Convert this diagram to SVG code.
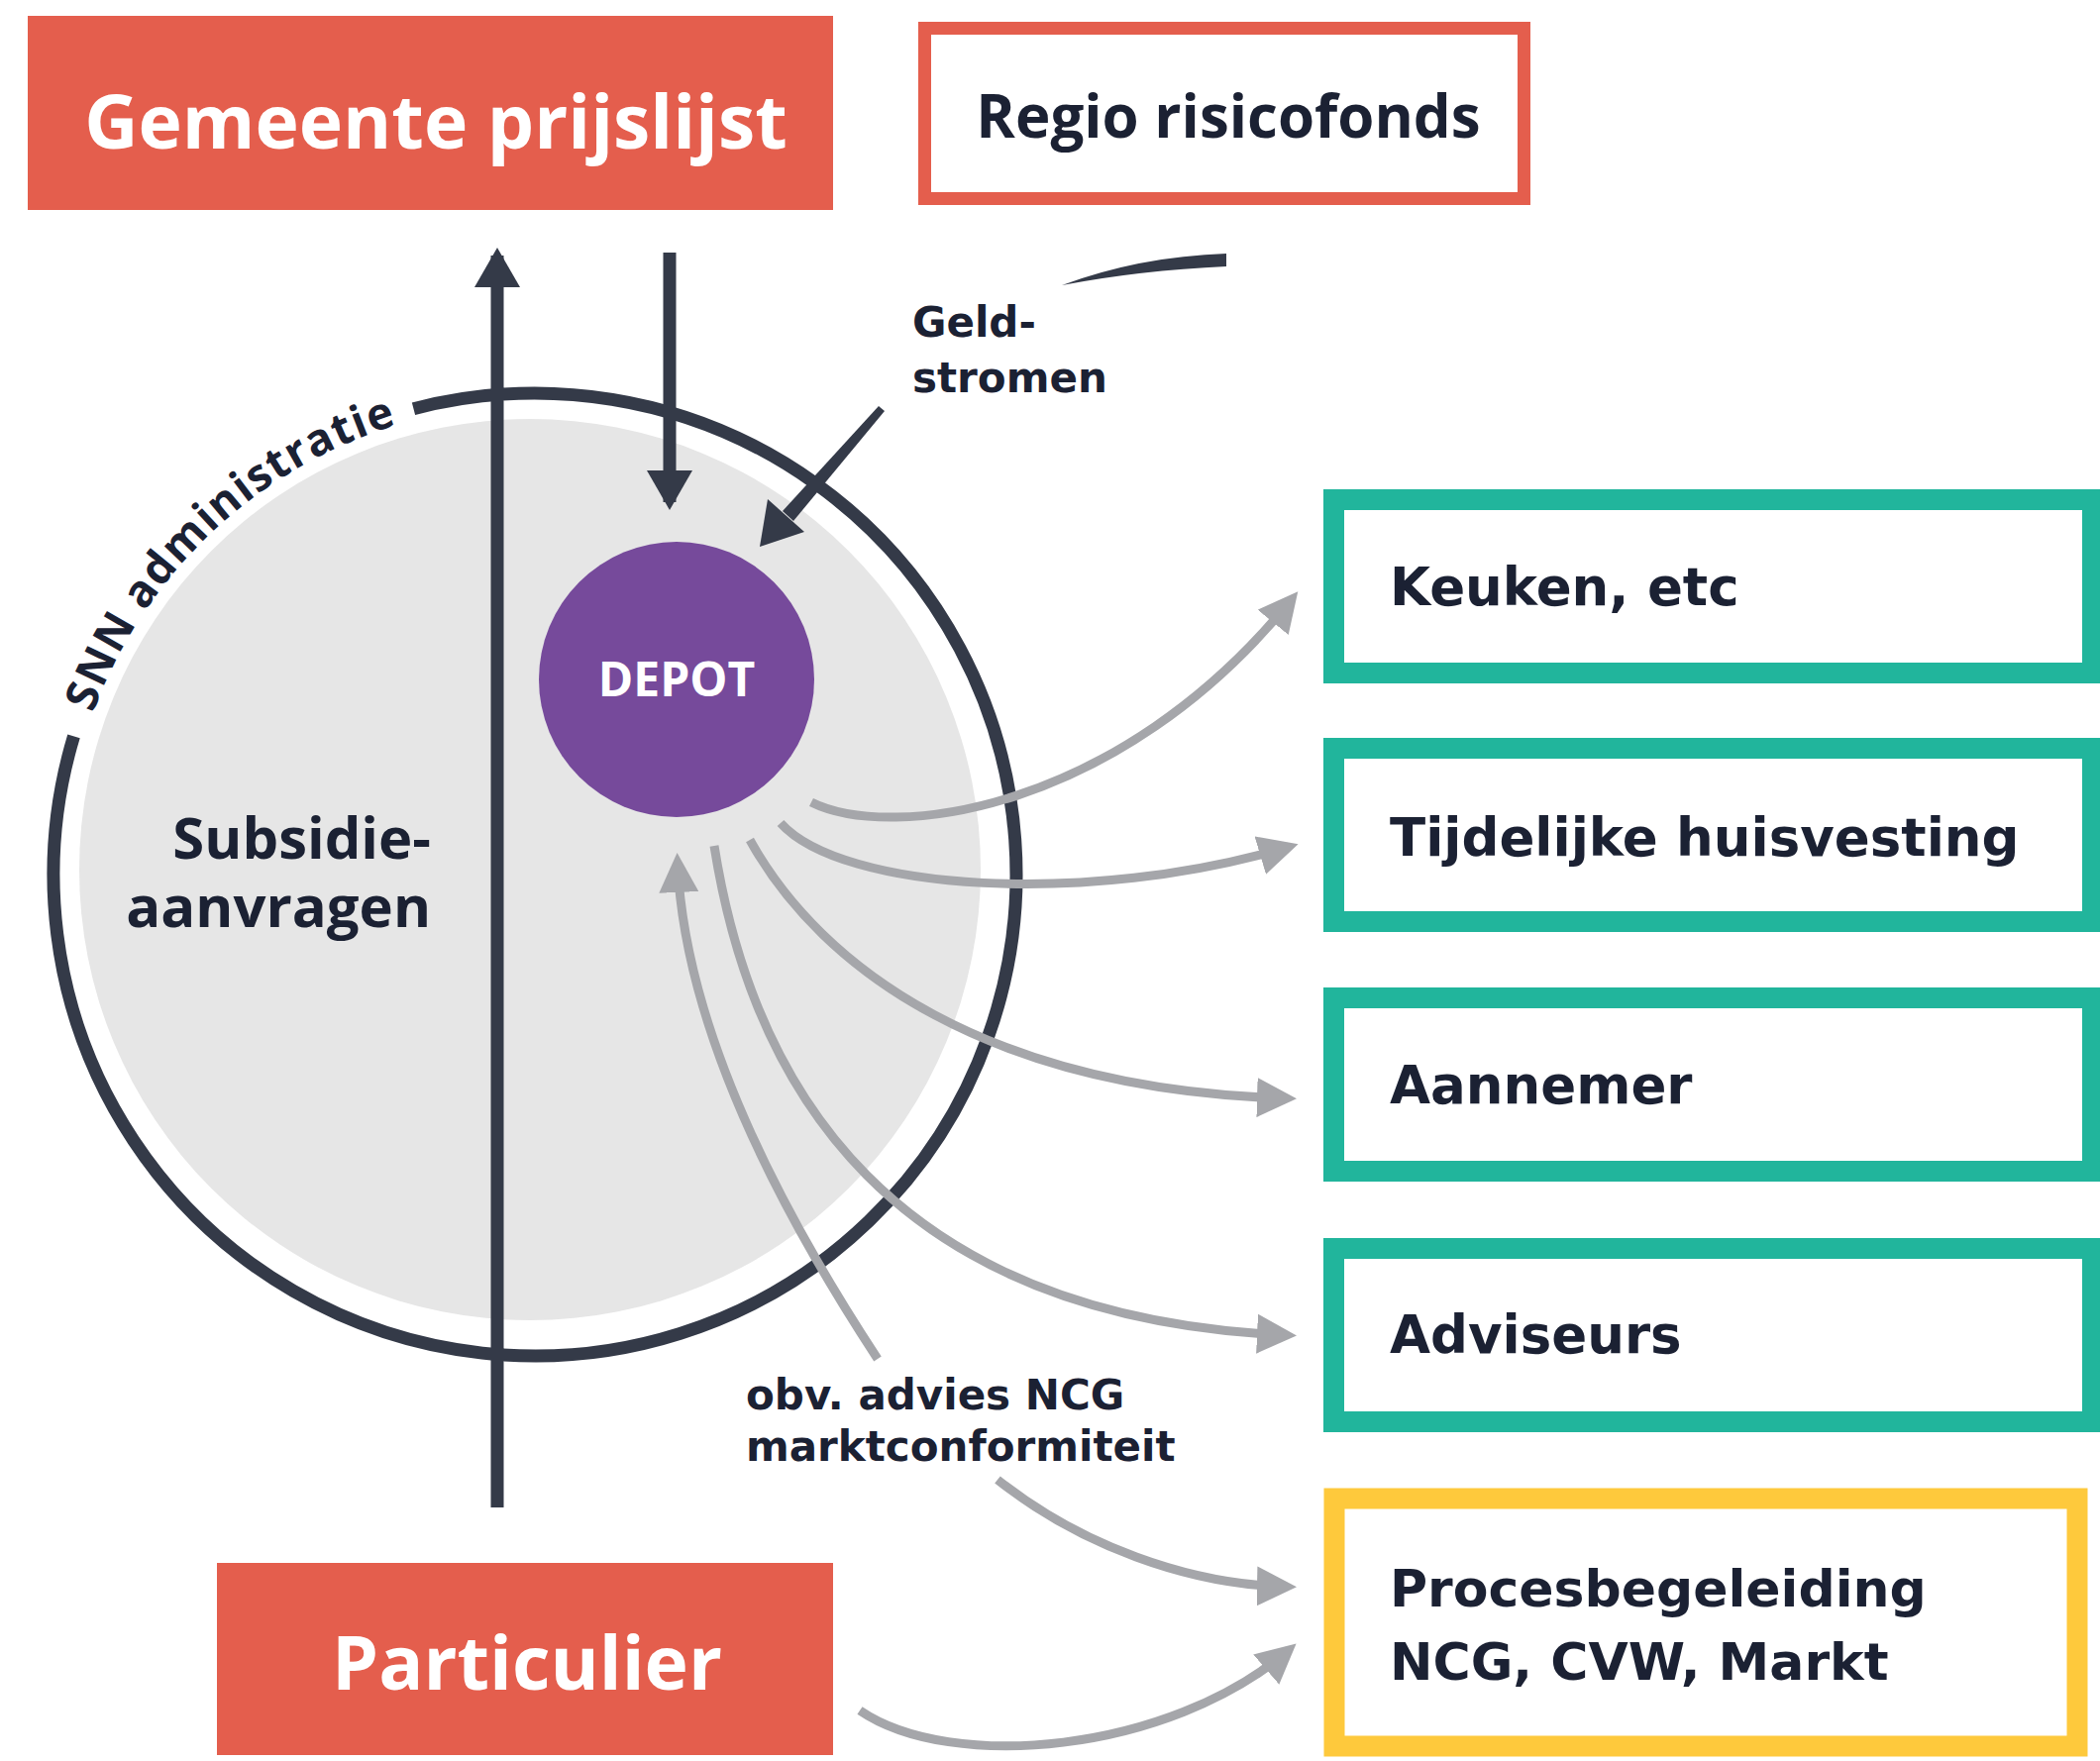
<svg xmlns="http://www.w3.org/2000/svg" width="2120" height="1778" viewBox="0 0 2120 1778">
<style>
.hum{font-family:"Open Sans","Liberation Sans",sans-serif;font-weight:700}
.ver{font-family:"DejaVu Sans","Liberation Sans",sans-serif;font-weight:700;fill:#1b2133}
.box{fill:#fff;stroke-width:21}
.teal{stroke:#21b59c}
.grey{fill:none;stroke:#a5a6aa;stroke-width:9}
.dark{fill:none;stroke:#343a48;stroke-width:13}
</style>
<defs>
<marker id="ag" viewBox="0 0 40 40" refX="30" refY="20" markerWidth="40" markerHeight="40" markerUnits="userSpaceOnUse" orient="auto">
<path d="M0,0 L40,20 L0,40 z" fill="#a5a6aa"/>
</marker>
<marker id="ad" viewBox="0 0 40 46" refX="32" refY="23" markerWidth="40" markerHeight="46" markerUnits="userSpaceOnUse" orient="auto">
<path d="M0,0 L40,23 L0,46 z" fill="#343a48"/>
</marker>
<path id="snnArc" d="M83.4,752.1 A475,475 0 0 1 433.1,420.2"/>
</defs>
<rect width="2120" height="1778" fill="#fff"/>

<g id="snn-circle">
<circle cx="535" cy="878" r="455" fill="#e6e6e6"/>
<path d="M417.5,412.7 A486,486 0 1 1 74.5,743.3" fill="none" stroke="#343a48" stroke-width="13"/>
<text class="hum" font-size="45" fill="#1b2133"><textPath href="#snnArc" startOffset="50%" text-anchor="middle" textLength="438" lengthAdjust="spacing">SNN administratie</textPath></text>
</g>

<g id="subsidie">
<text class="hum" x="435" y="867" font-size="58" fill="#1b2133" text-anchor="end">Subsidie-</text>
<text class="hum" x="435" y="936" font-size="58" fill="#1b2133" text-anchor="end">aanvragen</text>
</g>

<g id="gemeente">
<rect x="28" y="16" width="813" height="196" fill="#e45e4d"/>
<text class="hum" x="440" y="150" font-size="75" fill="#fff" text-anchor="middle">Gemeente prijslijst</text>
</g>

<g id="regio">
<rect x="933.5" y="28.5" width="605" height="172" fill="#fff" stroke="#e45e4d" stroke-width="13"/>
<text class="hum" x="1240" y="139" font-size="60" fill="#1b2133" text-anchor="middle">Regio risicofonds</text>
</g>

<g id="particulier">
<rect x="219" y="1578" width="622" height="194" fill="#e45e4d"/>
<text class="hum" x="532" y="1706" font-size="75" fill="#fff" text-anchor="middle">Particulier</text>
</g>

<g id="connectors">
<line class="dark" x1="502" y1="1522" x2="502" y2="258" marker-end="url(#ad)"/>
<line class="dark" x1="676" y1="255" x2="676" y2="507" marker-end="url(#ad)"/>
<path d="M1072,288 Q1150,259 1238,256 L1238,269 Q1150,273 1072,288 Z" fill="#343a48"/>
<path d="M887,410 L893,415 L801,526 L790,516 Z" fill="#343a48"/>
<path d="M767,552 L775,504 L812,537 Z" fill="#343a48"/>
<path class="grey" d="M819,810 C900,850 1130,820 1304,605" marker-end="url(#ag)"/>
<path class="grey" d="M788,831 C850,900 1100,915 1301,855" marker-end="url(#ag)"/>
<path class="grey" d="M757,848 C830,980 1000,1100 1299,1109" marker-end="url(#ag)"/>
<path class="grey" d="M721,854 C760,1100 900,1330 1299,1348" marker-end="url(#ag)"/>
<path class="grey" d="M886,1372 C760,1180 690,1010 684,871" marker-end="url(#ag)"/>
<path class="grey" d="M1007,1494 C1090,1560 1200,1600 1299,1602" marker-end="url(#ag)"/>
<path class="grey" d="M868,1727 C960,1790 1180,1770 1301,1666" marker-end="url(#ag)"/>
</g>

<g id="depot">
<circle cx="683" cy="686" r="139" fill="#764a9b"/>
<text class="hum" x="683" y="703" font-size="48" fill="#fff" text-anchor="middle">DEPOT</text>
</g>

<g id="label-geldstromen">
<text class="ver" font-size="42"><tspan x="921" y="340">Geld-</tspan><tspan x="921" y="396">stromen</tspan></text>
</g>

<g id="label-advies">
<text class="ver" font-size="42"><tspan x="753" y="1423">obv. advies NCG</tspan><tspan x="753" y="1475">marktconformiteit</tspan></text>
</g>

<g id="keuken">
<rect class="box teal" x="1346.5" y="504.5" width="766" height="175"/>
<text class="ver" x="1403" y="611" font-size="53">Keuken, etc</text>
</g>
<g id="tijdelijke">
<rect class="box teal" x="1346.5" y="755.5" width="766" height="175"/>
<text class="ver" x="1403" y="864" font-size="53">Tijdelijke huisvesting</text>
</g>
<g id="aannemer">
<rect class="box teal" x="1346.5" y="1007.5" width="766" height="175"/>
<text class="ver" x="1403" y="1114" font-size="53">Aannemer</text>
</g>
<g id="adviseurs">
<rect class="box teal" x="1346.5" y="1260.5" width="766" height="175"/>
<text class="ver" x="1403" y="1366" font-size="53">Adviseurs</text>
</g>
<g id="procesbegeleiding">
<rect class="box" x="1347" y="1513" width="750" height="250" stroke="#fec93c" stroke-width="22"/>
<text class="ver" font-size="52"><tspan x="1403" y="1622">Procesbegeleiding</tspan><tspan x="1403" y="1696">NCG, CVW, Markt</tspan></text>
</g>
</svg>
